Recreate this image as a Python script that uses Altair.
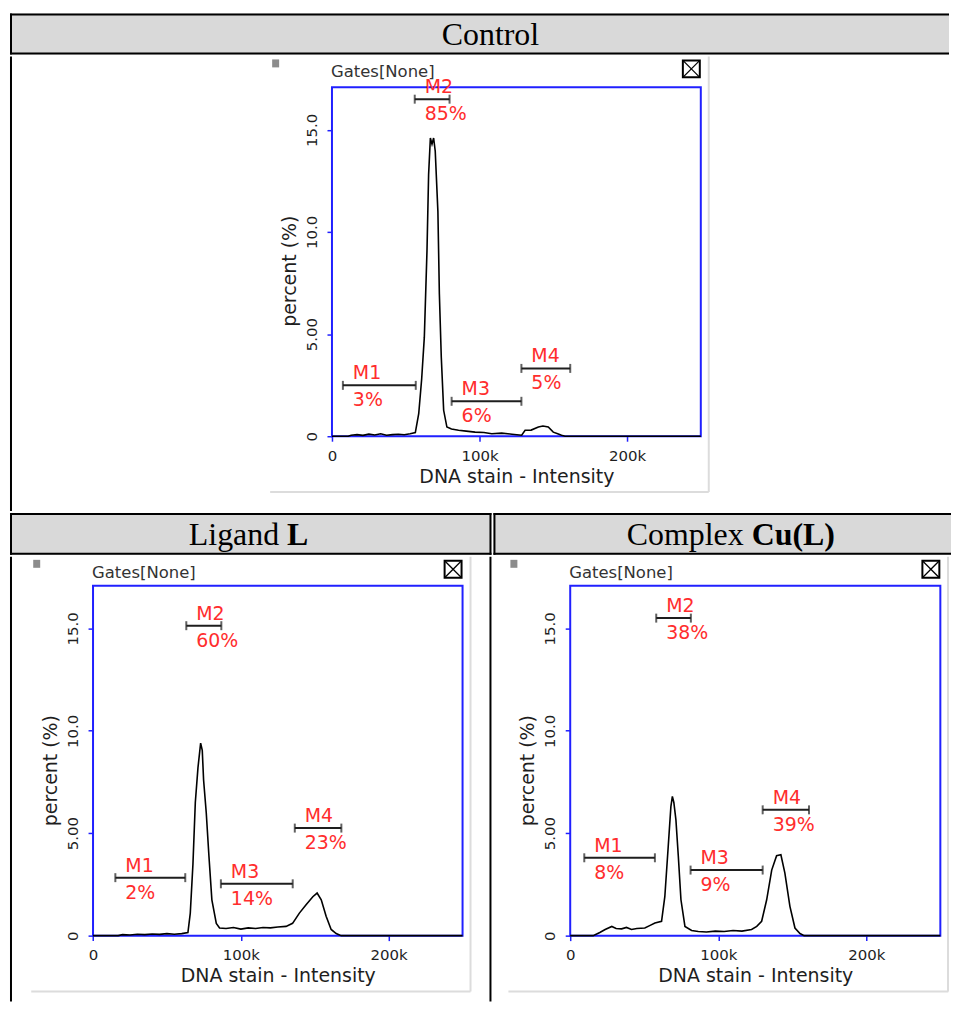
import altair as alt
import pandas as pd

# ---------------- data ----------------
X_MAX = 250000
Y_MAX = 17.08
GATE_NAMES = ["M1", "M2", "M3", "M4"]

# Control histogram (intensity in thousands, percent)
control_x_k = [0, 11, 13, 17, 21, 25, 29, 33, 37, 41,
               45, 49, 53, 56.5, 58.8, 60.8, 62.6, 64.4, 65.5, 66.7,
               67.8, 68.9, 70.0, 71.8, 72.8, 74.1, 75.7, 77.9, 81, 85.8,
               91, 97, 103, 108.3, 115, 122, 128.6, 130.9, 135, 139.9,
               143, 146.6, 150, 153, 155.6, 158, 250]
control_y = [0, 0, 0.05, 0.08, 0.04, 0.1, 0.06, 0.12, 0.05, 0.08,
             0.1, 0.07, 0.12, 0.18, 1.1, 2.8, 4.85, 9.07, 12.8, 14.6,
             14.3, 14.6, 13.95, 11.0, 6.96, 3.87, 1.27, 0.45, 0.35, 0.29,
             0.25, 0.2, 0.18, 0.12, 0.15, 0.1, 0.05, 0.29, 0.3, 0.45,
             0.5, 0.45, 0.2, 0.12, 0.05, 0, 0]

# Ligand L histogram
ligand_x_k = [0, 17, 20, 25, 30, 35, 40, 45, 50, 55,
              60, 64.2, 65.8, 67.6, 69.2, 71, 72.8, 73.9, 74.8, 76.6,
              78.4, 80.4, 83.4, 85.6, 90, 95, 100, 105, 110, 115,
              120, 125, 130.6, 135, 139.6, 144, 148.7, 151.6, 154.4, 157.7,
              161.1, 164.5, 167.9, 250]
ligand_y = [0, 0, 0.05, 0.03, 0.07, 0.05, 0.08, 0.06, 0.1, 0.07,
            0.1, 0.15, 1.1, 3.5, 6.5, 8.2, 9.4, 9.05, 7.6, 6.0,
            3.9, 1.75, 0.6, 0.37, 0.35, 0.4, 0.32, 0.38, 0.35, 0.4,
            0.38, 0.42, 0.45, 0.6, 1.1, 1.5, 1.9, 2.08, 1.75, 0.95,
            0.3, 0.1, 0, 0]

# Complex Cu(L) histogram
complex_x_k = [0, 15.5, 20, 23.6, 28.1, 31, 34.7, 38, 41.4, 45,
               50.4, 54, 57.2, 61.7, 63.9, 66.2, 68, 69, 70, 71.4,
               73, 74.8, 77.5, 82, 86.5, 92, 98, 104, 110, 116,
               122.5, 126, 129.3, 132.7, 136.1, 139.4, 142.3, 145, 148.4, 151.8,
               155.2, 158, 250]
complex_y = [0, 0, 0.15, 0.3, 0.45, 0.35, 0.33, 0.4, 0.3, 0.35,
             0.37, 0.5, 0.62, 0.7, 1.9, 4.35, 6.3, 6.8, 6.5, 5.65,
             3.9, 1.75, 0.45, 0.25, 0.2, 0.18, 0.22, 0.2, 0.25, 0.22,
             0.3, 0.45, 0.7, 1.75, 3.2, 3.9, 3.95, 3.05, 1.43, 0.37,
             0.1, 0, 0]

# Gate markers (start/end in thousands, level in percent, label)
control_gate_start_k = [7.4, 56.1, 81.1, 128.4]
control_gate_end_k = [56.8, 79.7, 128.4, 161.5]
control_gate_level = [2.49, 16.5, 1.71, 3.32]
control_gate_pct = ["3%", "85%", "6%", "5%"]

ligand_gate_start_k = [15.1, 63.1, 86.5, 136.5]
ligand_gate_end_k = [62.4, 86.8, 135.1, 168.0]
ligand_gate_level = [2.83, 15.13, 2.53, 5.25]
ligand_gate_pct = ["2%", "60%", "14%", "23%"]

complex_gate_start_k = [9.5, 58.1, 81.3, 130.0]
complex_gate_end_k = [57.2, 81.5, 130.0, 161.3]
complex_gate_level = [3.8, 15.5, 3.2, 6.14]
complex_gate_pct = ["8%", "38%", "9%", "39%"]

x_tick_values = [0, 100000, 200000]
y_tick_values = [0, 5, 10, 15]

# ---------------- styles ----------------
FONT = "DejaVu Sans"
SERIF = "Liberation Serif"
BLUE = "#2020ff"
RED = "#ff2d2d"
INK = "#1e1e1e"
HEADER_FILL = "#d9d9d9"
WIN_GRAY = "#dcdcdc"
LINE_W = 2
HEADER_SIZE = 32

ONE = pd.DataFrame({"k": [0]})


def rule_h(x_from, x_to, y, color="black", width=LINE_W):
    return alt.Chart(ONE).mark_rule(color=color, strokeWidth=width).encode(
        x=alt.value(x_from), x2=alt.value(x_to), y=alt.value(y))


def rule_v(x, y_from, y_to, color="black", width=LINE_W):
    return alt.Chart(ONE).mark_rule(color=color, strokeWidth=width).encode(
        x=alt.value(x), y=alt.value(y_from), y2=alt.value(y_to))


def header(W, H, parts, right=False):
    layers = []
    for text, x, align, bold in parts:
        layers.append(
            alt.Chart(ONE).mark_text(
                align=align, baseline="middle", font=SERIF, fontSize=HEADER_SIZE,
                fontWeight="bold" if bold else "normal", color="black"
            ).encode(x=alt.value(x), y=alt.value(H / 2 + 1), text=alt.value(text))
        )
    layers += [rule_h(0, W, 1), rule_h(0, W, H - 1), rule_v(1, 0, H)]
    if right:
        layers.append(rule_v(W - 1, 0, H))
    return alt.layer(*layers).properties(
        width=W, height=H, view=alt.ViewBackground(fill=HEADER_FILL, strokeWidth=0))


def cell(x_k, y_vals, g_start, g_end, g_level, g_pct, W, H, fx0, fx1, fy0, fy1,
         title_y, win_bottom, left_border=True, right_border=False):
    xs = alt.Scale(domain=[0, X_MAX], range=[fx0, fx1], nice=False, zero=False)
    ys = alt.Scale(domain=[0, Y_MAX], range=[fy1, fy0], nice=False, zero=False)
    hist = pd.DataFrame({"intensity": [v * 1000 for v in x_k], "percent": y_vals})
    gates = pd.DataFrame({
        "x0": [v * 1000 for v in g_start],
        "x1": [v * 1000 for v in g_end],
        "level": g_level,
        "name": GATE_NAMES,
        "pct": g_pct,
    })
    frame_df = pd.DataFrame({"x0": [0], "x1": [X_MAX], "y0": [0.0], "y1": [Y_MAX]})

    x_axis = alt.Axis(
        values=x_tick_values,
        labelExpr="datum.value == 0 ? '0' : format(datum.value / 1000, 'd') + 'k'",
        title="DNA stain - Intensity", offset=fy1 - H, domain=False, grid=False,
        tickColor=BLUE, tickSize=5, tickWidth=1.5,
        labelFont=FONT, labelFontSize=15, labelColor=INK, labelPadding=7, labelFlush=False,
        titleFont=FONT, titleFontSize=19, titleFontWeight="normal", titleColor=INK, titlePadding=4,
    )
    y_axis = alt.Axis(
        values=y_tick_values,
        labelExpr="datum.value == 0 ? '0' : (datum.value < 10 ? format(datum.value, '.2f') : format(datum.value, '.1f'))",
        title="percent (%)", offset=-fx0, domain=False, grid=False,
        tickColor=BLUE, tickSize=5, tickWidth=1.5,
        labelFont=FONT, labelFontSize=15, labelColor=INK, labelAngle=270,
        labelAlign="center", labelBaseline="bottom", labelPadding=8,
        titleFont=FONT, titleFontSize=19, titleFontWeight="normal", titleColor=INK,
        titleAngle=270, titleAlign="center", titleBaseline="middle", titleX=-43, titleY=title_y,
    )

    def X(field):
        return alt.X(field, scale=xs, axis=x_axis, title="DNA stain - Intensity")

    def Y(field):
        return alt.Y(field, scale=ys, axis=y_axis, title="percent (%)")

    frame = alt.Chart(frame_df).mark_rect(fillOpacity=0, stroke=BLUE, strokeWidth=2).encode(
        x=X("x0:Q"), x2="x1:Q", y=Y("y0:Q"), y2="y1:Q")
    line = alt.Chart(hist).mark_line(color="black", strokeWidth=1.6).encode(
        x=X("intensity:Q"), y=Y("percent:Q"))
    gate_rule = alt.Chart(gates).mark_rule(color=INK, strokeWidth=2).encode(
        x=X("x0:Q"), x2="x1:Q", y=Y("level:Q"))
    cap0 = alt.Chart(gates).mark_tick(orient="vertical", color=INK, size=9, thickness=2).encode(
        x=X("x0:Q"), y=Y("level:Q"))
    cap1 = alt.Chart(gates).mark_tick(orient="vertical", color=INK, size=9, thickness=2).encode(
        x=X("x1:Q"), y=Y("level:Q"))
    name_txt = alt.Chart(gates).mark_text(
        align="left", baseline="middle", dx=10, dy=-12, font=FONT, fontSize=19, color=RED).encode(
        x=X("x0:Q"), y=Y("level:Q"), text="name:N")
    pct_txt = alt.Chart(gates).mark_text(
        align="left", baseline="middle", dx=10, dy=15, font=FONT, fontSize=19, color=RED).encode(
        x=X("x0:Q"), y=Y("level:Q"), text="pct:N")

    # window decorations
    gates_lbl = alt.Chart(ONE).mark_text(
        align="left", baseline="alphabetic", font=FONT, fontSize=16.5, color="#333333").encode(
        x=alt.value(fx0 - 1), y=alt.value(21), text=alt.value("Gates[None]"))
    square = alt.Chart(ONE).mark_rect(color="#8c8c8c").encode(
        x=alt.value(fx0 - 60), x2=alt.value(fx0 - 53), y=alt.value(3), y2=alt.value(11))
    box = alt.Chart(ONE).mark_rect(fill="white", stroke="black", strokeWidth=2).encode(
        x=alt.value(fx1 - 18), x2=alt.value(fx1 - 1), y=alt.value(4), y2=alt.value(21))
    diag1 = alt.Chart(ONE).mark_rule(color="black", strokeWidth=1.3).encode(
        x=alt.value(fx1 - 18), y=alt.value(4), x2=alt.value(fx1 - 1), y2=alt.value(21))
    diag2 = alt.Chart(ONE).mark_rule(color="black", strokeWidth=1.3).encode(
        x=alt.value(fx1 - 18), y=alt.value(21), x2=alt.value(fx1 - 1), y2=alt.value(4))
    win_r = rule_v(min(fx1 + 8, W - 1), 0, win_bottom, color=WIN_GRAY, width=2)
    win_b = rule_h(fx0 - 62, fx1 + 8, win_bottom, color=WIN_GRAY, width=2)

    layers = [frame, win_r, win_b, line, gate_rule, cap0, cap1, name_txt, pct_txt,
              gates_lbl, square, box, diag1, diag2]
    if left_border:
        layers.append(rule_v(1, 0, H))
    if right_border:
        layers.append(rule_v(W - 1, 0, H))
    return alt.layer(*layers).properties(
        width=W, height=H, view=alt.ViewBackground(strokeWidth=0))


W_TOP = 942
W_L = 483
W_R = 459
H_H1 = 41
H_C1 = 456
H_H2 = 42
H_C2 = 446

h_top = header(W_TOP, H_H1, [("Control", 482, "center", False)])
c_top = cell(control_x_k, control_y, control_gate_start_k, control_gate_end_k,
             control_gate_level, control_gate_pct, W_TOP, H_C1, 323, 693, 31, 381,
             title_y=215, win_bottom=437)

# header text split points (normal part right-aligned, bold part left-aligned)
h_l = header(W_L, H_H2, [("Ligand", 270, "right", False), ("L", 278, "left", True)], right=True)
h_r = header(W_R, H_H2, [("Complex", 251, "right", False), ("Cu(L)", 259, "left", True)])

c_l = cell(ligand_x_k, ligand_y, ligand_gate_start_k, ligand_gate_end_k,
           ligand_gate_level, ligand_gate_pct, W_L, H_C2, 83.3, 454, 29, 380,
           title_y=214, win_bottom=436, left_border=True, right_border=True)
c_r = cell(complex_x_k, complex_y, complex_gate_start_k, complex_gate_end_k,
           complex_gate_level, complex_gate_pct, W_R, H_C2, 79, 450.3, 29, 380,
           title_y=214, win_bottom=436, left_border=False)

chart = alt.vconcat(
    h_top, c_top,
    alt.hconcat(h_l, h_r, spacing=0),
    alt.hconcat(c_l, c_r, spacing=0),
    spacing=0,
).properties(
    padding={"left": 1, "top": 3, "right": 0, "bottom": 0}
).configure_view(strokeWidth=0)

chart.save("out.html", embed_options={"renderer": "svg", "actions": False})
